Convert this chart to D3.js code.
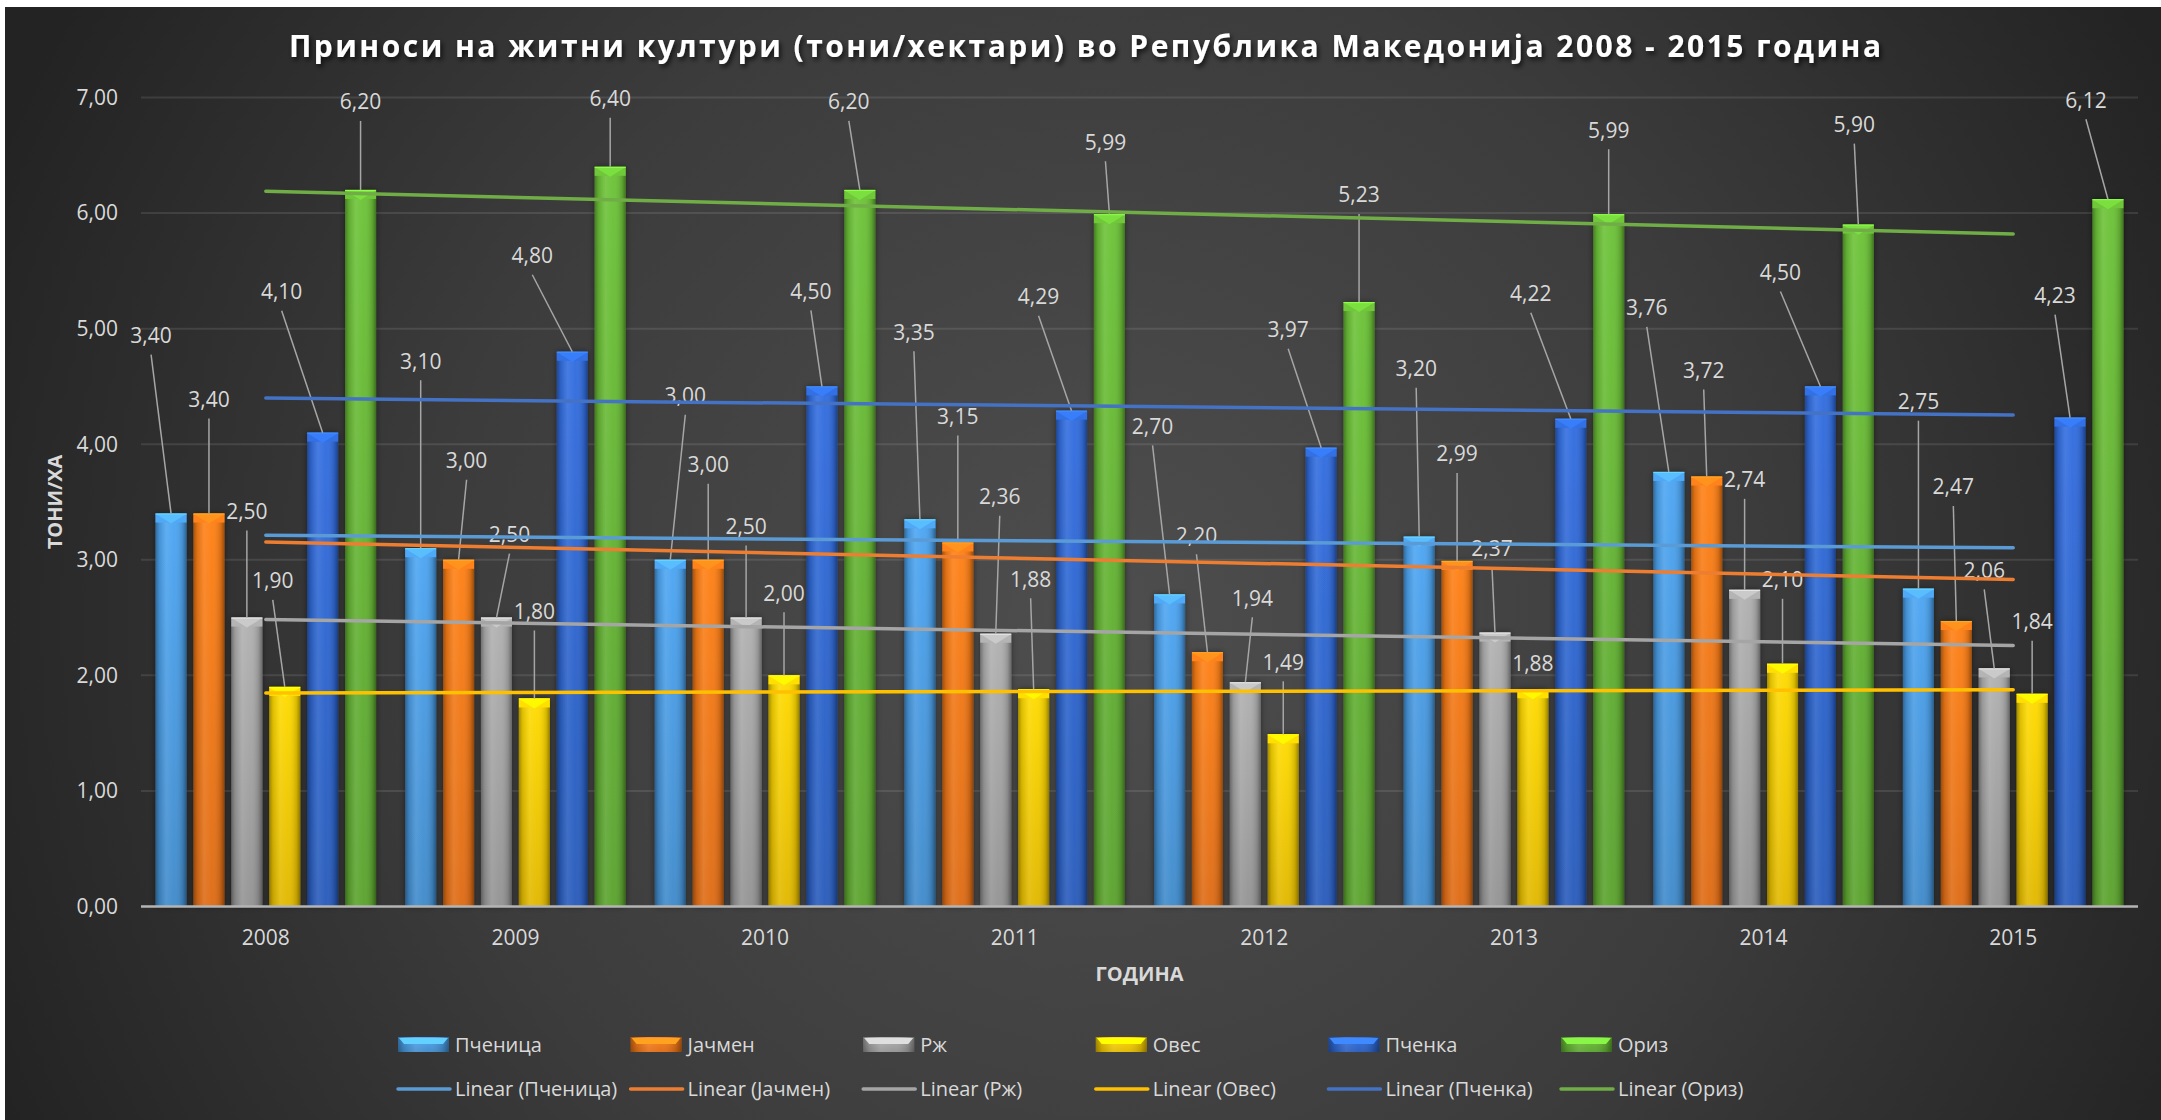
<!DOCTYPE html>
<html>
<head>
<meta charset="utf-8">
<script src="https://cdn.jsdelivr.net/npm/d3@7"></script>
<style>
  html, body { margin: 0; padding: 0; background: #fff; }
  svg { display: block; }
  text { font-family: "Open Sans", sans-serif; }
</style>
</head>
<body>
<svg id="chart" width="2161" height="1120"></svg>
<script>
// data
const years = ["2008", "2009", "2010", "2011", "2012", "2013", "2014", "2015"];
const seriesNames = ["Пченица", "Јачмен", "Рж", "Овес", "Пченка", "Ориз"];
const wheat = [3.40, 3.10, 3.00, 3.35, 2.70, 3.20, 3.76, 2.75];
const barley = [3.40, 3.00, 3.00, 3.15, 2.20, 2.99, 3.72, 2.47];
const rye = [2.50, 2.50, 2.50, 2.36, 1.94, 2.37, 2.74, 2.06];
const oats = [1.90, 1.80, 2.00, 1.88, 1.49, 1.88, 2.10, 1.84];
const maize = [4.10, 4.80, 4.50, 4.29, 3.97, 4.22, 4.50, 4.23];
const rice = [6.20, 6.40, 6.20, 5.99, 5.23, 5.99, 5.90, 6.12];
const yTicks = [0, 1, 2, 3, 4, 5, 6, 7];

const title = "Приноси на житни култури (тони/хектари) во Република Македонија 2008 - 2015 година";
const xTitle = "ГОДИНА";
const yTitle = "ТОНИ/ХА";

// look
const barColors = ["#4a9de6", "#fb7a18", "#a8a8a8", "#ffd000", "#2f68d4", "#67b935"];
const trendColors = ["#5b9bd5", "#ed7d31", "#a5a5a5", "#ffc000", "#4472c4", "#70ad47"];

// where each data label sits, relative to its bar top (px)
const labelShift = [
  [[-20, -178], [0, -187], [15, -164], [-6, -187], [-17, -168], [-3, -168], [-22, -164], [0, -187]],
  [[0, -114], [8, -99], [0, -95], [0, -126], [-11, -117], [0, -107], [-3, -106], [-3, -134]],
  [[0, -106], [13, -83], [0, -91], [4, -137], [7, -84], [-3, -84], [0, -110], [-10, -98]],
  [[-12, -106], [0, -87], [0, -82], [-3, -110], [0, -72], [0, -26], [0, -84], [0, -72]],
  [[-41, -141], [-40, -96], [-11, -95], [-33, -114], [-33, -118], [-40, -125], [-40, -114], [-15, -122]],
  [[0, -88], [0, -68], [-11, -88], [-4, -72], [0, -107], [0, -84], [-4, -100], [-22, -99]]
];

const series = [wheat, barley, rye, oats, maize, rice].map((values, i) => ({
  name: seriesNames[i],
  values: values,
  color: barColors[i],
  trend: trendColors[i],
  shift: labelShift[i],
  index: i
}));

const svg = d3.select("#chart");
const plot = { left: 141, right: 2138, top: 97.5, bottom: 906.5 };

const locale = d3.formatLocale({ decimal: ",", thousands: ".", grouping: [3], currency: ["", ""] });
const fmt = locale.format(".2f");

const x = d3.scaleBand().domain(years).range([plot.left, plot.right]);
const groupW = x.bandwidth() * 0.911;
const xs = d3
  .scaleBand()
  .domain(seriesNames)
  .range([-groupW / 2, groupW / 2])
  .paddingInner(0.182)
  .paddingOuter(0.091);
const y = d3.scaleLinear().domain([0, 7]).range([plot.bottom, plot.top]);

const barCx = (year, name) => x(year) + x.bandwidth() / 2 + xs(name) + xs.bandwidth() / 2;

function setUp() {
  const defs = svg.append("defs");

  const bg = defs
    .append("radialGradient")
    .attr("id", "bg")
    .attr("gradientUnits", "userSpaceOnUse")
    .attr("cx", 1100)
    .attr("cy", 620)
    .attr("r", 1200);
  bg.append("stop").attr("offset", 0).attr("stop-color", "#4e4e4e");
  bg.append("stop").attr("offset", 0.55).attr("stop-color", "#3c3c3c");
  bg.append("stop").attr("offset", 1).attr("stop-color", "#232323");

  series.forEach(s => {
    const g = defs
      .append("linearGradient")
      .attr("id", "bar" + s.index)
      .attr("x1", 0).attr("y1", 0).attr("x2", 0).attr("y2", 1);
    g.append("stop").attr("offset", 0).attr("stop-color", d3.color(s.color).brighter(0.15));
    g.append("stop").attr("offset", 1).attr("stop-color", d3.color(s.color).darker(0.35));
  });

  // rounded look across each bar
  const shade = defs
    .append("linearGradient")
    .attr("id", "shade")
    .attr("x1", 0).attr("y1", 0).attr("x2", 1).attr("y2", 0);
  [[0, "#000", 0.35], [0.12, "#000", 0.12], [0.35, "#fff", 0.1], [0.6, "#fff", 0.03], [0.88, "#000", 0.15], [1, "#000", 0.4]]
    .forEach(d => shade.append("stop").attr("offset", d[0]).attr("stop-color", d[1]).attr("stop-opacity", d[2]));

  const shadow = defs.append("filter").attr("id", "shadow").attr("x", "-10%").attr("y", "-20%").attr("width", "120%").attr("height", "160%");
  shadow.append("feDropShadow").attr("dx", 2).attr("dy", 3).attr("stdDeviation", 2.5).attr("flood-color", "#000").attr("flood-opacity", 0.7);

  const barShadow = defs.append("filter").attr("id", "barShadow").attr("x", "-30%").attr("y", "-5%").attr("width", "160%").attr("height", "110%");
  barShadow.append("feDropShadow").attr("dx", 0).attr("dy", 0).attr("stdDeviation", 3).attr("flood-color", "#000").attr("flood-opacity", 0.45);

  svg.append("rect")
    .attr("x", 5).attr("y", 7)
    .attr("width", 2156).attr("height", 1113)
    .attr("fill", "url(#bg)");
}

function drawAxis() {
  svg.append("g")
    .selectAll("line")
    .data(yTicks.filter(d => d > 0))
    .join("line")
    .attr("x1", plot.left).attr("x2", plot.right)
    .attr("y1", d => y(d)).attr("y2", d => y(d))
    .attr("stroke", "#ffffff").attr("stroke-opacity", 0.1).attr("stroke-width", 2);

  svg.append("g")
    .selectAll("text")
    .data(yTicks)
    .join("text")
    .attr("x", 118).attr("y", d => y(d)).attr("dy", "0.35em")
    .attr("text-anchor", "end")
    .attr("font-size", 21).attr("fill", "#d9d9d9")
    .text(d => fmt(d));

  svg.append("g")
    .selectAll("text")
    .data(years)
    .join("text")
    .attr("x", d => x(d) + x.bandwidth() / 2).attr("y", 938).attr("dy", "0.35em")
    .attr("text-anchor", "middle")
    .attr("font-size", 21).attr("fill", "#d9d9d9")
    .text(d => d);

  svg.append("text")
    .attr("x", (plot.left + plot.right) / 2).attr("y", 974).attr("dy", "0.35em")
    .attr("text-anchor", "middle")
    .attr("font-size", 20).attr("font-weight", "bold").attr("fill", "#d9d9d9")
    .text(xTitle);

  svg.append("text")
    .attr("transform", "translate(55," + (plot.top + plot.bottom) / 2 + ") rotate(-90)")
    .attr("dy", "0.35em")
    .attr("text-anchor", "middle")
    .attr("font-size", 20).attr("font-weight", "bold").attr("fill", "#d9d9d9")
    .text(yTitle);

  svg.append("text")
    .attr("x", 1085).attr("y", 57)
    .attr("text-anchor", "middle")
    .attr("font-size", 30).attr("font-weight", "bold").attr("fill", "#ffffff")
    .attr("textLength", 1592).attr("lengthAdjust", "spacing")
    .attr("filter", "url(#shadow)")
    .text(title);
}

function drawBars() {
  const bw = xs.bandwidth();
  const groups = svg.append("g")
    .selectAll("g")
    .data(series)
    .join("g");

  const bars = groups
    .selectAll("g")
    .data(s => s.values.map((v, i) => ({ s: s, v: v, year: years[i] })))
    .join("g");

  bars.append("rect")
    .attr("x", d => barCx(d.year, d.s.name) - bw / 2)
    .attr("y", d => y(d.v))
    .attr("width", bw)
    .attr("height", d => plot.bottom - y(d.v))
    .attr("fill", d => "url(#bar" + d.s.index + ")")
    .attr("filter", "url(#barShadow)");

  bars.append("rect")
    .attr("x", d => barCx(d.year, d.s.name) - bw / 2)
    .attr("y", d => y(d.v))
    .attr("width", bw)
    .attr("height", d => plot.bottom - y(d.v))
    .attr("fill", "url(#shade)");

  // bevel at the top of every bar
  bars.append("rect")
    .attr("x", d => barCx(d.year, d.s.name) - bw / 2)
    .attr("y", d => y(d.v))
    .attr("width", bw)
    .attr("height", 9)
    .attr("fill", d => d3.color(d.s.color).brighter(0.2));

  bars.append("path")
    .attr("d", d => {
      const cx = barCx(d.year, d.s.name), t = y(d.v);
      return "M" + (cx - bw / 2 + 1) + "," + (t + 1) + "L" + (cx + bw / 2 - 1) + "," + (t + 1) + "L" + cx + "," + (t + 10) + "Z";
    })
    .attr("fill", d => d3.color(d.s.color).brighter(0.6))
    .attr("opacity", 0.8);

  bars.append("line")
    .attr("x1", d => barCx(d.year, d.s.name) - bw / 2)
    .attr("x2", d => barCx(d.year, d.s.name) + bw / 2)
    .attr("y1", d => y(d.v) + 0.5)
    .attr("y2", d => y(d.v) + 0.5)
    .attr("stroke", d => d3.color(d.s.color).brighter(0.9))
    .attr("stroke-width", 1.2);

  svg.append("line")
    .attr("x1", plot.left).attr("x2", plot.right)
    .attr("y1", plot.bottom).attr("y2", plot.bottom)
    .attr("stroke", "#b4b4b4").attr("stroke-width", 2.5);
}

function drawLabels() {
  const items = [];
  series.forEach(s => s.values.forEach((v, i) => {
    const cx = barCx(years[i], s.name), top = y(v);
    items.push({ v: v, cx: cx, top: top, lx: cx + s.shift[i][0], ly: top + s.shift[i][1] });
  }));

  svg.append("g")
    .selectAll("line")
    .data(items.filter(d => d.ly - d.top < -45))
    .join("line")
    .attr("x1", d => d.lx).attr("y1", d => d.ly + 19)
    .attr("x2", d => d.cx).attr("y2", d => d.top)
    .attr("stroke", "#a6a6a6").attr("stroke-width", 1.5);

  svg.append("g")
    .selectAll("text")
    .data(items)
    .join("text")
    .attr("x", d => d.lx).attr("y", d => d.ly).attr("dy", "0.35em")
    .attr("text-anchor", "middle")
    .attr("font-size", 21).attr("fill", "#d9d9d9")
    .text(d => fmt(d.v));
}

function drawTrends() {
  const idx = d3.range(1, years.length + 1);
  const mx = d3.mean(idx);
  series.forEach(s => {
    const my = d3.mean(s.values);
    const b = d3.sum(idx, (t, i) => (t - mx) * (s.values[i] - my)) / d3.sum(idx, t => (t - mx) * (t - mx));
    const a = my - b * mx;
    const ends = [0, years.length - 1].map(i => [x(years[i]) + x.bandwidth() / 2, y(a + b * (i + 1))]);
    svg.append("path")
      .attr("d", d3.line()(ends))
      .attr("stroke", s.trend)
      .attr("stroke-width", 3.5)
      .attr("stroke-linecap", "round")
      .attr("fill", "none");
  });
}

function drawLegend() {
  const x0 = 398, step = 232.6;
  const g = svg.append("g");

  const row1 = g.selectAll("g.bar-key")
    .data(series)
    .join("g")
    .attr("class", "bar-key")
    .attr("transform", s => "translate(" + (x0 + s.index * step) + ",1037)");
  row1.append("rect")
    .attr("width", 51).attr("height", 15)
    .attr("fill", s => "url(#bar" + s.index + ")");
  row1.append("rect")
    .attr("width", 51).attr("height", 15)
    .attr("fill", "url(#shade)");
  row1.append("path")
    .attr("d", "M1,1L50,1L45,7L6,7Z")
    .attr("fill", s => d3.color(s.color).brighter(0.8));
  row1.append("text")
    .attr("x", 57).attr("y", 7.5).attr("dy", "0.35em")
    .attr("font-size", 20).attr("fill", "#d9d9d9")
    .text(s => s.name);

  const row2 = g.selectAll("g.line-key")
    .data(series)
    .join("g")
    .attr("class", "line-key")
    .attr("transform", s => "translate(" + (x0 + s.index * step) + ",1089)");
  row2.append("line")
    .attr("x1", 0).attr("x2", 52)
    .attr("stroke", s => s.trend).attr("stroke-width", 3.5).attr("stroke-linecap", "round");
  row2.append("text")
    .attr("x", 57).attr("dy", "0.35em")
    .attr("font-size", 20).attr("fill", "#d9d9d9")
    .text(s => "Linear (" + s.name + ")");
}

setUp();
drawAxis();
drawBars();
drawLabels();
drawTrends();
drawLegend();
</script>
</body>
</html>
